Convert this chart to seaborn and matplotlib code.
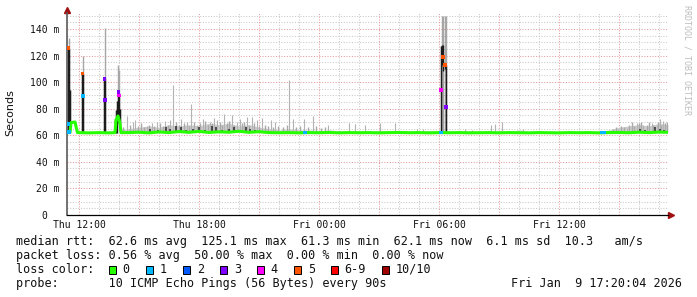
import numpy as np
import matplotlib
matplotlib.use("Agg")
import matplotlib.pyplot as plt
from matplotlib.patches import Rectangle
import seaborn as sns

# ---------------- data (hours relative to Thu 12:00, values in ms) ----------------
x_tick_hours = [0, 6, 12, 18, 24]
x_tick_labels = ["Thu 12:00", "Thu 18:00", "Fri 00:00", "Fri 06:00", "Fri 12:00"]
y_tick_ms = [0, 20, 40, 60, 80, 100, 120, 140]
y_tick_labels = ["0  ", "20 m", "40 m", "60 m", "80 m", "100 m", "120 m", "140 m"]

base_hours = [-0.6, -0.45, -0.4, -0.2, -0.125, -0.075, 0.5, 1.0, 1.5, 1.8, 1.85, 1.95, 2.05, 2.1,
              2.5, 3.0, 3.5, 4.0, 4.5, 5.0, 5.5, 6.0, 6.5, 7.0, 7.5, 8.0, 8.5, 9.0, 9.5,
              10.0, 10.5, 11.0, 11.5, 12.0, 12.5, 13.0, 13.5, 14.0, 14.5, 15.0, 15.5, 16.0, 16.5,
              17.0, 17.5, 18.0, 18.5, 19.0, 19.5, 20.0, 20.5, 21.0, 21.5, 22.0, 22.5, 23.0, 23.5,
              24.0, 24.5, 25.0, 25.5, 26.0, 26.5, 27.0, 27.5, 28.0, 28.5, 29.0, 29.45]
median_ms = [62.0, 62.0, 69.5, 70.0, 65.0, 62.0, 61.8, 62.0, 61.8, 62.0, 71.5, 74.5, 69.0, 62.0,
             62.0, 62.3, 61.8, 62.5, 62.0, 62.8, 62.2, 62.9, 62.1, 62.6, 62.3, 63.0, 62.2, 62.7, 62.0,
             61.9, 62.0, 61.8, 62.0, 61.9, 62.1, 61.8, 62.0, 61.9, 62.0, 61.8, 62.0, 62.1, 61.9,
             62.0, 61.8, 62.0, 61.9, 62.0, 61.8, 61.9, 62.0, 61.8, 62.0, 61.9, 61.8, 62.0, 61.9,
             61.8, 62.0, 61.9, 62.0, 61.8, 62.0, 62.1, 61.9, 62.3, 62.0, 62.4, 62.2]
smoke_top_ms = [62.0, 62.0, 70.5, 71.0, 66.0, 62.5, 62.5, 62.5, 63.0, 63.0, 72.0, 76.0, 70.0, 64.0,
                65.0, 66.0, 67.0, 66.0, 68.0, 67.0, 68.0, 67.0, 69.0, 68.0, 69.0, 67.0, 68.0, 66.0, 65.0,
                64.0, 65.0, 64.0, 64.0, 63.5, 64.0, 63.5, 63.0, 63.5, 63.0, 63.5, 63.0, 63.5, 63.0,
                63.0, 63.5, 63.0, 63.0, 63.0, 63.5, 63.0, 63.0, 63.5, 63.0, 64.0, 63.0, 63.0, 63.0,
                63.0, 63.0, 63.0, 63.0, 63.0, 64.0, 66.0, 67.0, 68.0, 67.0, 69.0, 68.0]

# tall, isolated smoke whiskers
spike_hours = [2.415, 2.7, 2.8, 3.385, 3.65, 3.9, 4.3, 4.55, 4.715, 5.1, 5.4, 5.6, 6.185, 6.55,
               6.75, 6.9, 7.265, 7.635, 7.9, 8.05, 8.415, 8.635, 8.885, 9.135, 9.6, 9.8, 10.515,
               10.715, 11.25, 11.715, 12.465, 13.515, 13.8, 14.3, 15.05, 15.8, 16.885, 17.215,
               19.3, 19.635, 20.6, 20.8, 21.135, 22.215, 26.965, 27.385, 27.885, 28.215, 28.635,
               28.885, 29.05, 29.215]
spike_top_ms = [74.5, 70.0, 71.5, 67.0, 69.0, 70.0, 71.0, 71.5, 98.0, 72.0, 70.0, 83.5, 72.0, 70.0,
                73.0, 71.5, 76.0, 75.0, 70.0, 72.0, 73.5, 74.0, 71.5, 72.8, 71.5, 70.0, 101.6,
                72.0, 72.0, 74.5, 67.7, 69.5, 68.5, 67.7, 69.0, 69.5, 65.0, 65.0,
                65.0, 64.0, 67.7, 68.5, 70.0, 65.0, 65.0, 65.5, 69.0, 67.7, 69.0,
                67.7, 72.0, 71.0]

# low, dense smoke fringe
fringe_hours = [2.2, 2.55, 2.95, 3.1, 3.25, 3.5, 3.75, 4.05, 4.2, 4.45, 4.85, 5.0, 5.25, 5.5,
                5.75, 5.9, 6.05, 6.3, 6.45, 6.65, 7.05, 7.15, 7.4, 7.5, 7.75, 8.15, 8.25, 8.5,
                8.75, 9.0, 9.3, 9.45, 9.7, 9.95, 10.2, 10.4, 10.85, 11.05, 11.45, 11.85, 12.1,
                12.3, 26.7, 26.85, 27.1, 27.25, 27.5, 27.65, 27.75, 28.0, 28.1, 28.4, 28.5,
                28.7, 28.95, 29.1, 29.3, 29.4]
fringe_top_ms = [66, 68, 67, 69, 66, 68, 67, 69, 67, 68, 70, 68, 69, 67,
                 70, 68, 69, 71, 68, 69, 70, 68, 69, 71, 68, 69, 70, 68,
                 69, 67, 68, 67, 66, 67, 66, 68, 66, 67, 66, 67, 65.5,
                 66, 65, 66, 67, 66, 68, 70, 67, 69, 70, 68, 70,
                 68, 70, 68, 69, 70]

burst_hours = [-0.55, -0.5, -0.45, 0.125, 0.175, 1.25, 1.3, 1.8, 1.85, 1.9, 1.95, 2.0, 2.05,
               18.1, 18.15, 18.2, 18.275, 18.325]
burst_grey_top_ms = [126.0, 133.0, 94.0, 107.0, 120.0, 103.0, 140.5, 72.0, 79.0, 86.0, 113.0, 109.0, 80.0,
                     127.0, 150.0, 150.0, 150.0, 150.0]
burst_dark_lo_ms = [62.0, 63.0, 69.0, 62.0, 62.0, 62.0, 62.0, 62.0, 62.0, 62.0, 69.0, 70.0, 68.0,
                    62.0, 113.0, 108.0, 110.0, 62.0]
burst_dark_hi_ms = [126.0, 125.0, 94.0, 107.0, 106.0, 103.0, 103.0, 72.0, 79.0, 86.0, 93.0, 92.0, 80.0,
                    127.0, 128.0, 128.0, 113.0, 113.0]

dark_hours = [3.55, 3.95, 4.35, 4.55, 4.85, 5.1, 5.35, 5.7, 6.0, 6.3, 6.65, 6.85, 7.15, 7.5,
              7.75, 8.05, 8.35, 8.55, 8.8, 28.05, 28.3, 28.8, 29.05, 29.25]
dark_top_ms = [65, 64, 66, 65, 67, 66, 64, 65, 66, 64, 67, 66, 64, 65,
               66, 64, 66, 65, 64, 65, 64, 66, 65, 64]

loss_hours = [-0.55, -0.5, -0.525, 0.175, 0.2, 1.275, 1.3, 1.975, 2.0, 11.3,
              18.1, 18.1, 18.2, 18.3, 18.35, 26.15, 26.25]
loss_ms = [68.5, 62.5, 125.5, 106.5, 89.5, 102.5, 86.5, 92.5, 90.0, 62.0,
           62.0, 94.0, 119.0, 113.0, 81.5, 62.0, 62.0]
loss_level = ["1", "1", "5", "5", "1", "3", "3", "3", "4", "1",
              "1", "4", "5", "5", "3", "1", "1"]

loss_names = ["0", "1", "2", "3", "4", "5", "6-9", "10/10"]
loss_colors = ["#26ff00", "#00b8ff", "#0059ff", "#7e00ff", "#ff00ff", "#ff5500", "#ff0000", "#a10000"]

legend_rtt = "median rtt:  62.6 ms avg  125.1 ms max  61.3 ms min  62.1 ms now  6.1 ms sd  10.3   am/s"
legend_loss = "packet loss: 0.56 % avg  50.00 % max  0.00 % min  0.00 % now"
legend_probe = "probe:       10 ICMP Echo Pings (56 Bytes) every 90s"
legend_date = "Fri Jan  9 17:20:04 2026"
watermark = "RRDTOOL / TOBI OETIKER"

# ---------------- figure ----------------
sns.set_style("white")
plt.rcParams["font.family"] = ["DejaVu Sans Mono", "DejaVu Sans"]

W, H = 697, 297
fig = plt.figure(figsize=(W / 100, H / 100), dpi=100, facecolor="white")
L, R, T, B = 67, 668, 13, 215
ax = fig.add_axes([L / W, (H - B) / H, (R - L) / W, (B - T) / H])
ax.set_xlim(-0.6, 29.45)
ax.set_ylim(0, 152)

# grid
minor_c, major_c = "#c9c9c9", "#e89a9a"
for v in range(5, 152, 5):
    if v % 20 != 0:
        ax.axhline(v, color=minor_c, lw=0.75, ls=(0, (1, 1.6)), zorder=0)
for v in range(20, 152, 20):
    ax.axhline(v, color=major_c, lw=0.75, ls=(0, (1, 1.6)), zorder=0.1)
for h in range(0, 30):
    if h % 3 != 0:
        ax.axvline(h, color=minor_c, lw=0.75, ls=(0, (1, 1.6)), zorder=0)
for h in range(0, 30, 3):
    ax.axvline(h, color=major_c, lw=0.75, ls=(0, (1, 1.6)), zorder=0.1)

# smoke
ax.fill_between(base_hours, median_ms, smoke_top_ms, color="#cccccc", lw=0, zorder=1)
fringe_lo = np.interp(fringe_hours, base_hours, median_ms)
ax.vlines(fringe_hours, fringe_lo, fringe_top_ms, color="#a9a9a9", lw=1.0, zorder=1.4)
spike_lo = np.interp(spike_hours, base_hours, median_ms)
ax.vlines(spike_hours, spike_lo, spike_top_ms, color="#b3b3b3", lw=0.8, zorder=1.5)
burst_lo = np.interp(burst_hours, base_hours, median_ms)
ax.vlines(burst_hours, burst_lo, burst_grey_top_ms, color="#a6a6a6", lw=1.0, zorder=2)
ax.vlines(burst_hours, burst_dark_lo_ms, burst_dark_hi_ms, color="#1c1c1c", lw=1.0, zorder=2.5)
dark_lo = np.interp(dark_hours, base_hours, median_ms)
ax.vlines(dark_hours, dark_lo, dark_top_ms, color="#2a2a2a", lw=1.1, zorder=2.5)

# median line
sns.lineplot(x=base_hours, y=median_ms, color=loss_colors[0], lw=2.2, ax=ax,
             estimator=None, sort=False, zorder=3)
sns.scatterplot(x=loss_hours, y=loss_ms, hue=loss_level,
                palette=dict(zip(loss_names, loss_colors)), marker="s", s=7,
                linewidth=0, legend=False, ax=ax, zorder=4)

# axes styling
for s in ["top", "right"]:
    ax.spines[s].set_visible(False)
ax.spines["left"].set_color("#5a5a5a")
ax.spines["left"].set_linewidth(1.2)
ax.spines["bottom"].set_color("#000000")
ax.spines["bottom"].set_linewidth(0.9)
ax.set_xticks(x_tick_hours)
ax.set_xticklabels(x_tick_labels)
ax.set_yticks(y_tick_ms)
ax.set_yticklabels(y_tick_labels)
ax.set_xticks(range(0, 30), minor=True)
ax.set_yticks(range(0, 152, 5), minor=True)
ax.tick_params(axis="both", which="both", direction="inout", length=3, width=0.7,
               color="#777777", labelsize=7, labelcolor="#111111")
ax.tick_params(axis="x", which="major", pad=2)
ax.tick_params(axis="y", which="major", pad=4)
ax.set_xlabel("")
ax.set_ylabel("")
for lab in ax.get_xticklabels() + ax.get_yticklabels():
    lab.set_family("DejaVu Sans Mono")

# arrows
ax.plot([0], [1.013], marker="^", color="#a01010", ms=4, transform=ax.transAxes, clip_on=False)
ax.plot([1.0045], [0], marker=">", color="#a01010", ms=4, transform=ax.transAxes, clip_on=False)

# y label and watermark
fig.text(10.5 / W, 1 - 113 / H, "Seconds", rotation=90, ha="center", va="center",
         fontsize=8, family="DejaVu Sans", color="#111111")
fig.text(687 / W, 1 - 5 / H, watermark, rotation=270, ha="center", va="top",
         fontsize=6, family="DejaVu Sans Mono", color="#bdbdbd")

# legend block
fs = 8.5
fig.text(16 / W, 1 - 241.7 / H, legend_rtt, ha="left", va="center", fontsize=fs, color="#111111")
fig.text(16 / W, 1 - 255.3 / H, legend_loss, ha="left", va="center", fontsize=fs, color="#111111")
fig.text(16 / W, 1 - 269.3 / H, "loss color:", ha="left", va="center", fontsize=fs, color="#111111")
box_x = [108.7, 145.7, 182.7, 219.7, 256.7, 293.7, 330.7, 381.7]
for bx, name, col in zip(box_x, loss_names, loss_colors):
    fig.add_artist(Rectangle((bx / W, 1 - 273.5 / H), 7.5 / W, 7.5 / H, transform=fig.transFigure,
                             facecolor=col, edgecolor="black", lw=0.7))
    fig.text((bx + 14) / W, 1 - 269.3 / H, name, ha="left", va="center", fontsize=fs, color="#111111")
fig.text(16 / W, 1 - 283.3 / H, legend_probe, ha="left", va="center", fontsize=fs, color="#111111")
fig.text(682 / W, 1 - 283.3 / H, legend_date, ha="right", va="center", fontsize=fs, color="#111111")

fig.savefig("out.png", dpi=100, facecolor="white")
